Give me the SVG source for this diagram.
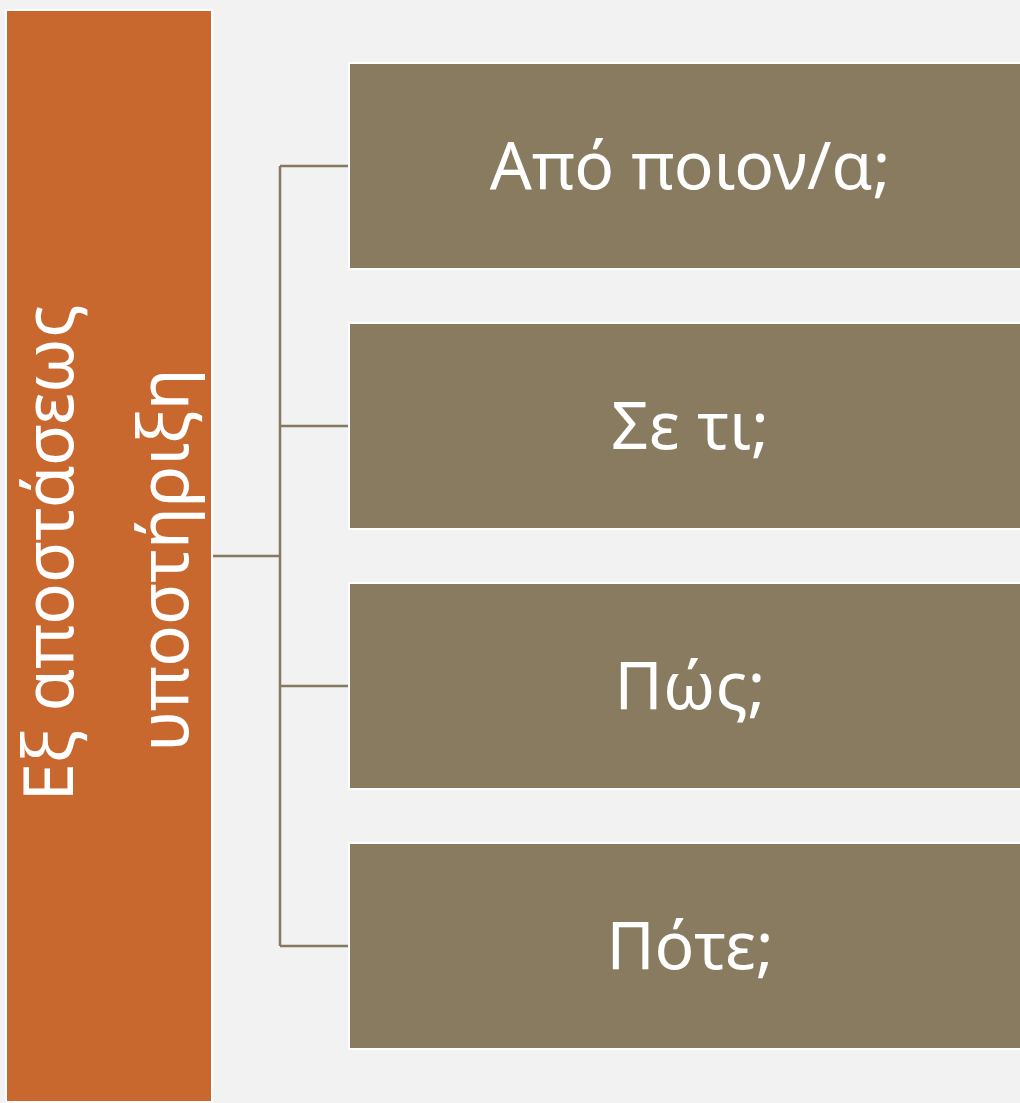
<svg xmlns="http://www.w3.org/2000/svg" width="1020" height="1103" viewBox="0 0 1020 1103">
<style>
.bg{fill:#f2f2f2}
.root{fill:#c8682f;stroke:#ffffff;stroke-width:2}
.leaf{fill:#887b5f;stroke:#ffffff;stroke-width:2}
.t{font-family:"Noto Sans","DejaVu Sans",sans-serif;font-size:66px;fill:#ffffff;text-anchor:middle}
.v{font-size:69px}
.c{stroke:#857a5f;stroke-width:2.5;fill:none}
</style>
<rect class="bg" x="0" y="0" width="1020" height="1103"/>
<g id="connectors">
<path class="c" d="M213 556H280M280 166V946M280 166H348M280 426H348M280 686H348M280 946H348"/>
</g>
<g id="root">
<rect class="root" x="6" y="10" width="206" height="1092"/>
<text class="t v" transform="translate(73 553) rotate(-90)">Εξ αποστάσεως</text>
<text class="t v" transform="translate(188 560) rotate(-90)">υποστήριξη</text>
</g>
<g id="n1">
<rect class="leaf" x="349" y="63" width="683" height="206"/>
<text class="t" x="690" y="189">Από ποιον/α;</text>
</g>
<g id="n2">
<rect class="leaf" x="349" y="323" width="683" height="206"/>
<text class="t" x="690" y="449">Σε τι;</text>
</g>
<g id="n3">
<rect class="leaf" x="349" y="583" width="683" height="206"/>
<text class="t" x="690" y="709">Πώς;</text>
</g>
<g id="n4">
<rect class="leaf" x="349" y="843" width="683" height="206"/>
<text class="t" x="690" y="969">Πότε;</text>
</g>
</svg>
